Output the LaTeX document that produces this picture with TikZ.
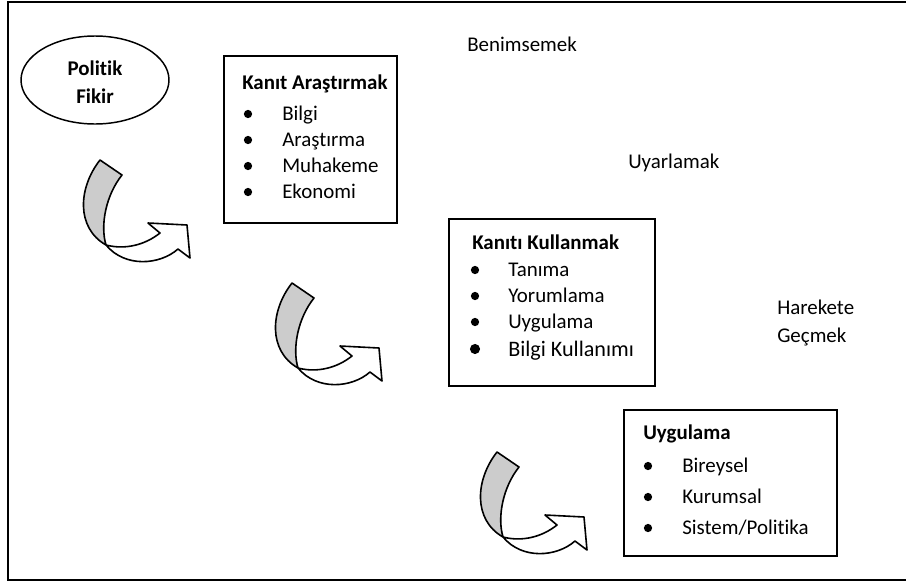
\documentclass[tikz,border=0pt]{standalone}
\usepackage{fontspec}
\setmainfont{Carlito}[Ligatures=NoCommon]
\usetikzlibrary{shapes.geometric}
\newcommand\curlarrow{%
  \filldraw[ribbon, fill=black!20] (100,160) -- (122,175) .. controls (106,195) and (100,225) .. (106,245) .. controls (76,228) and (78,188) .. (100,160) -- cycle;
  \filldraw[ribbon, fill=white] (106,245) .. controls (125,250) and (145,245) .. (160,233) -- (148,223) -- (187,225) -- (190,258) -- (178,249) .. controls (160,265) and (125,268) .. (106,245) -- cycle;
}
\begin{document}
\begin{tikzpicture}[x=0.75pt,y=-0.75pt,
  lbl/.style={anchor=base west, inner sep=0pt, font=\fontsize{15.7}{19}\selectfont},
  ttl/.style={anchor=base west, inner sep=0pt, font=\fontsize{15.7}{19}\selectfont\bfseries},
  boxframe/.style={draw, line width=1.4pt, inner sep=0pt, anchor=north west},
  ribbon/.style={draw, line width=1.2pt, line join=round},
  dot/.style={fill=black}]
\useasboundingbox (0,0) rectangle (906,586);
\clip (0,0) rectangle (906,586);
\draw[line width=1.1pt] (8,2) rectangle (915,580);

% ellipse
\node[align=center, inner sep=0pt, font=\fontsize{15.7}{21}\selectfont\bfseries] (pf) at (95,82) {Politik\\Fikir};
\draw[line width=1.1pt] (95,80) ellipse [x radius=74, y radius=44];

% box 1
\node[boxframe, minimum width=129.75pt, minimum height=125.25pt] (b1) at (223,55) {};
\node[ttl] (b1t) at (242,89) {Kanıt Araştırmak};
\node[lbl] (b1a) at (282,120) {Bilgi};
\node[lbl] (b1b) at (282,146) {Araştırma};
\node[lbl] (b1c) at (282,172) {Muhakeme};
\node[lbl] (b1d) at (282,198) {Ekonomi};
\foreach \y in {114,140,166,192} \fill[dot] (248,\y) circle (3.1pt);

% box 2
\node[boxframe, minimum width=154.5pt, minimum height=125.25pt] (b2) at (448,218) {};
\node[ttl] (b2t) at (472,249) {Kanıtı Kullanmak};
\node[lbl] (b2a) at (508,276) {Tanıma};
\node[lbl] (b2b) at (508,302) {Yorumlama};
\node[lbl] (b2c) at (508,328) {Uygulama};
\node[lbl, font=\fontsize{16.6}{21}\selectfont] (b2d) at (508,356) {Bilgi Kullanımı};
\foreach \y in {270,296,322} \fill[dot] (475,\y) circle (3.1pt);
\fill[dot] (475,349) circle (3.8pt);

% box 3
\node[boxframe, minimum width=159.75pt, minimum height=109.5pt] (b3) at (623,409) {};
\node[ttl] (b3t) at (643,439) {Uygulama};
\node[lbl] (b3a) at (682,472) {Bireysel};
\node[lbl] (b3b) at (682,503) {Kurumsal};
\node[lbl] (b3c) at (682,534) {Sistem/Politika};
\foreach \y in {466,497,528} \fill[dot] (648,\y) circle (3.1pt);

% free labels
\node[lbl] (l1) at (467,51) {Benimsemek};
\node[lbl] (l2) at (628,168) {Uyarlamak};
\node[lbl] (l3) at (777,314) {Harekete};
\node[lbl] (l4) at (777,342) {Geçmek};

% curved arrows
\curlarrow
\begin{scope}[shift={(192,123)}]\curlarrow\end{scope}
\begin{scope}[shift={(397,292)}]\curlarrow\end{scope}
\end{tikzpicture}
\end{document}
